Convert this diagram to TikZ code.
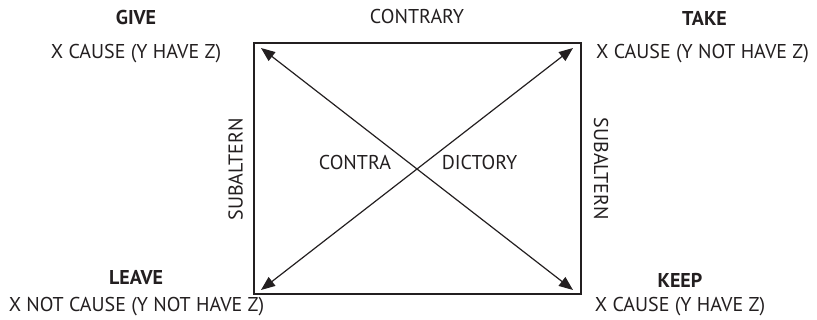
\documentclass[tikz,border=0pt]{standalone}
\usepackage{fontspec}
\setmainfont{PT Sans}
\usetikzlibrary{arrows.meta}
\definecolor{tinte}{HTML}{231F20}
\tikzset{
  rahmen/.style={draw=tinte,line width=1.6pt},
  diag/.style={{Triangle[length=14pt,width=11pt]}-{Triangle[length=14pt,width=11pt]},tinte,line width=1.2pt},
  verb/.style={tinte,inner sep=0pt,font=\fontsize{20}{20}\selectfont\bfseries},
  formel/.style={tinte,inner sep=0pt,font=\fontsize{20}{20}\selectfont},
}

\begin{document}
\begin{tikzpicture}[x=1pt,y=-1pt]
  \useasboundingbox (0,0) rectangle (817,320);
  % --- Quadrat ---
  \coordinate (GL) at (254,43);
  \coordinate (TR) at (581,43);
  \coordinate (LB) at (254,294);
  \coordinate (KR) at (581,294);
  \draw[rahmen] (GL) rectangle (KR);
  % --- Diagonalen ---
  \coordinate (g) at (261,48);
  \coordinate (t) at (573,48);
  \coordinate (l) at (261,290);
  \coordinate (k) at (573,290);
  \draw[diag] (g)--(k);
  \draw[diag] (t)--(l);
  % --- Ecken ---
  \node[verb] (give) at (136,18) {GIVE};
  \node[formel] (giveF) at (136,54) {X CAUSE (Y HAVE Z)};
  \node[verb] (take) at (704.5,18) {TAKE};
  \node[formel] (takeF) at (702.5,54) {X CAUSE (Y NOT HAVE Z)};
  \node[verb] (leave) at (136,278) {LEAVE};
  \node[formel] (leaveF) at (136.5,307) {X NOT CAUSE (Y NOT HAVE Z)};
  \node[verb] (keep) at (680,280) {KEEP};
  \node[formel] (keepF) at (680,307) {X CAUSE (Y HAVE Z)};
  % --- Relationen ---
  \node[formel] (contrary) at (417,17) {CONTRARY};
  \node[formel,rotate=90] (subL) at (235.5,169.5) {SUBALTERN};
  \node[formel,rotate=-90] (subR) at (601,169) {SUBALTERN};
  \node[formel] (contra) at (355,163) {CONTRA};
  \node[formel] (dictory) at (479.5,163) {DICTORY};
\end{tikzpicture}
\end{document}
